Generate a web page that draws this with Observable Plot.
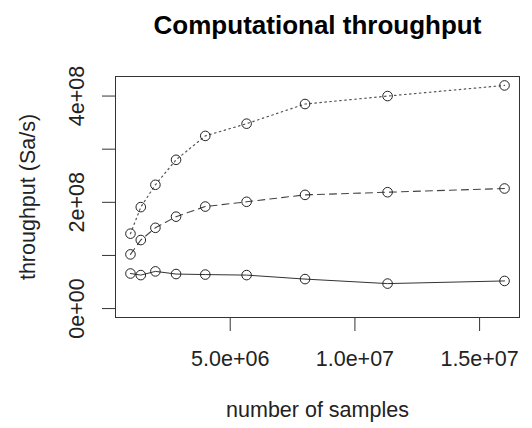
<!DOCTYPE html>
<html>
<head>
<meta charset="utf-8">
<script src="https://cdn.jsdelivr.net/npm/d3@7"></script>
<script src="https://cdn.jsdelivr.net/npm/@observablehq/plot@0.6"></script>
<style>
  html, body { margin: 0; padding: 0; background: #fff; }
  #chart svg { display: block; }
</style>
</head>
<body>
<div id="chart"></div>
<script>
// ---- data ----
const title = "Computational throughput";
const xLabel = "number of samples";
const yLabel = "throughput (Sa/s)";
const samples = [1e6, 1.414e6, 2e6, 2.828e6, 4e6, 5.657e6, 8e6, 11.31e6, 16e6];
const seriesSolid  = [0.66e8, 0.63e8, 0.70e8, 0.65e8, 0.64e8, 0.63e8, 0.555e8, 0.47e8, 0.52e8];
const seriesDashed = [1.02e8, 1.29e8, 1.52e8, 1.73e8, 1.92e8, 2.01e8, 2.14e8, 2.19e8, 2.26e8];
const seriesDotted = [1.41e8, 1.91e8, 2.33e8, 2.80e8, 3.25e8, 3.48e8, 3.85e8, 4.00e8, 4.20e8];
const xTicks = [5e6, 1e7, 1.5e7];
const xTickLabels = ["5.0e+06", "1.0e+07", "1.5e+07"];
const yTicks = [0, 1e8, 2e8, 3e8, 4e8];
const yTickLabels = ["0e+00", "", "2e+08", "", "4e+08"];

// ---- build tables ----
const rows = (ys) => samples.map((x, i) => ({x, y: ys[i]}));
const solid = rows(seriesSolid), dashed = rows(seriesDashed), dotted = rows(seriesDotted);

// R-style 4% axis expansion
const xmin = d3.min(samples), xmax = d3.max(samples);
const xpad = (xmax - xmin) * 0.04;
const ymax = d3.max([...seriesSolid, ...seriesDashed, ...seriesDotted]);
const ypad = ymax * 0.04;

const font = "'Liberation Sans', Arial, Helvetica, sans-serif";
const ink = "#222";

const chart = Plot.plot({
  width: 532,
  height: 428,
  marginLeft: 115,
  marginRight: 13,
  marginTop: 76,
  marginBottom: 111,
  style: {fontFamily: font, background: "#fff", color: ink},
  x: {domain: [xmin - xpad, xmax + xpad]},
  y: {domain: [0 - ypad, ymax + ypad]},
  marks: [
    Plot.frame({stroke: "#333", strokeWidth: 1}),
    Plot.axisX(xTicks, {tickSize: 14, tickFormat: () => "", label: null, stroke: "#333"}),
    Plot.axisY(yTicks, {tickSize: 13, tickFormat: () => "", label: null, stroke: "#333"}),
    Plot.text(xTicks.map((v, i) => ({v, t: xTickLabels[i]})), {
      x: "v", text: "t", frameAnchor: "bottom", textAnchor: "middle", lineAnchor: "bottom", dy: 48,
      fontSize: 21.5, fill: ink
    }),
    Plot.text(yTicks.map((v, i) => ({v, t: yTickLabels[i]})), {
      y: "v", text: "t", frameAnchor: "left", textAnchor: "middle", lineAnchor: "bottom", rotate: -90, dx: -32,
      fontSize: 21.5, fill: ink
    }),
    Plot.line(solid, {x: "x", y: "y", stroke: "#333", strokeWidth: 1}),
    Plot.line(dashed, {x: "x", y: "y", stroke: "#444", strokeWidth: 1.1, strokeDasharray: "7,5"}),
    Plot.line(dotted, {x: "x", y: "y", stroke: "#555", strokeWidth: 1.2, strokeDasharray: "1.5,3.5"}),
    Plot.dot([...solid, ...dashed, ...dotted], {x: "x", y: "y", r: 4.8, stroke: ink, strokeWidth: 1, fill: "none"}),
    Plot.text([title], {
      text: d => d, frameAnchor: "top", textAnchor: "middle", lineAnchor: "bottom", dy: -43,
      fontSize: 26, fontWeight: "bold", fill: "#000"
    }),
    Plot.text([xLabel], {
      text: d => d, frameAnchor: "bottom", textAnchor: "middle", lineAnchor: "bottom", dy: 99,
      fontSize: 21.5, fill: ink
    }),
    Plot.text([yLabel], {
      text: d => d, frameAnchor: "left", textAnchor: "middle", lineAnchor: "bottom", rotate: -90, dx: -81,
      fontSize: 21.5, fill: ink
    })
  ]
});
document.getElementById("chart").appendChild(chart);
</script>
</body>
</html>
